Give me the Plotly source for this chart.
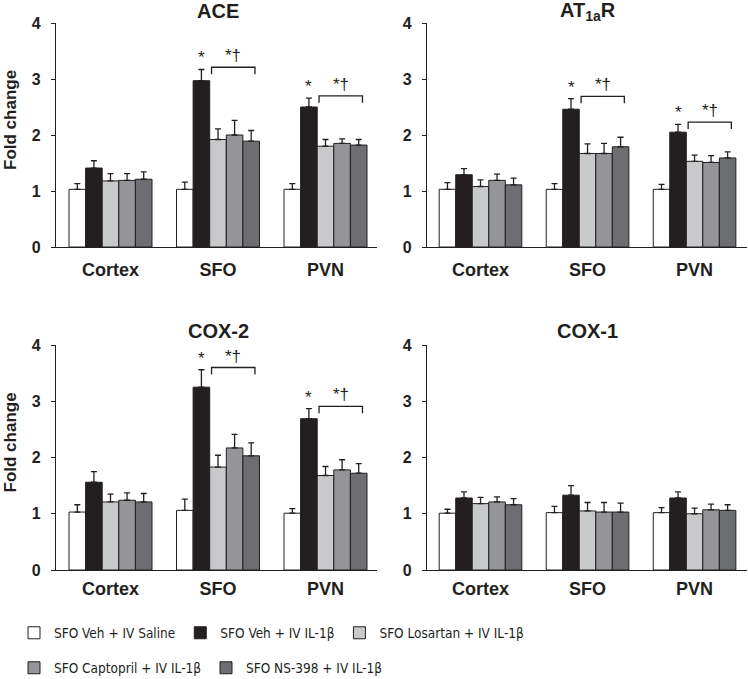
import plotly.graph_objects as go

regions = ["Cortex", "SFO", "PVN"]
groups = ["SFO Veh + IV Saline", "SFO Veh + IV IL-1β", "SFO Losartan + IV IL-1β",
          "SFO Captopril + IV IL-1β", "SFO NS-398 + IV IL-1β"]
colors = ["#ffffff", "#231f20", "#c8c9cb", "#939598", "#6d6e71"]

# means[group][region], errors[group][region]
ace_mean = [[1.03, 1.03, 1.03], [1.41, 2.97, 2.50], [1.18, 1.92, 1.80], [1.19, 2.00, 1.85], [1.21, 1.89, 1.82]]
ace_err = [[0.10, 0.13, 0.10], [0.13, 0.20, 0.16], [0.13, 0.19, 0.12], [0.12, 0.26, 0.08], [0.13, 0.19, 0.10]]

at1_mean = [[1.03, 1.03, 1.03], [1.29, 2.46, 2.05], [1.08, 1.67, 1.53], [1.19, 1.67, 1.51], [1.11, 1.79, 1.59]]
at1_err = [[0.12, 0.10, 0.09], [0.11, 0.19, 0.14], [0.12, 0.17, 0.11], [0.11, 0.18, 0.12], [0.12, 0.17, 0.11]]

cox2_mean = [[1.03, 1.06, 1.01], [1.56, 3.25, 2.69], [1.21, 1.83, 1.68], [1.24, 2.17, 1.78], [1.21, 2.03, 1.72]]
cox2_err = [[0.13, 0.20, 0.08], [0.19, 0.31, 0.18], [0.14, 0.21, 0.16], [0.13, 0.24, 0.18], [0.15, 0.23, 0.17]]

cox1_mean = [[1.01, 1.02, 1.02], [1.28, 1.33, 1.28], [1.18, 1.05, 1.00], [1.21, 1.03, 1.07], [1.16, 1.03, 1.06]]
cox1_err = [[0.07, 0.11, 0.09], [0.11, 0.17, 0.11], [0.11, 0.15, 0.10], [0.09, 0.17, 0.10], [0.11, 0.16, 0.10]]

panel_titles = ["ACE", "AT<sub>1a</sub>R", "COX-2", "COX-1"]
panel_means = [ace_mean, at1_mean, cox2_mean, cox1_mean]
panel_errs = [ace_err, at1_err, cox2_err, cox1_err]
sig_regions = [["SFO", "PVN"], ["SFO", "PVN"], ["SFO", "PVN"], []]
y_ticks = [0, 1, 2, 3, 4]

W, H = 748, 679
BOLD = "Liberation Sans, Arial, sans-serif"
NARROW = "DejaVu Sans Condensed, Liberation Sans Narrow, Arial Narrow, sans-serif"
INK = "#231f20"

# pixel geometry of panels
xdom_px = [(56, 377), (427, 747), (56, 377), (427, 747)]
ydom_px = [(247, 23), (247, 23), (570, 345), (570, 345)]
title_px = [11, 11, 331, 331]
xranges = [[-0.507, 2.479], [-0.5, 2.49], [-0.507, 2.479], [-0.5, 2.49]]
xstand = [6, 6, 2, 2]

bargap = 0.228
nb = len(groups)
barw = (1 - bargap) / nb

fig = go.Figure()
shapes = []
annotations = []

for p in range(4):
    sfx = "" if p == 0 else str(p + 1)
    xa, ya = "x" + sfx, "y" + sfx
    for g in range(nb):
        fig.add_trace(go.Bar(
            x=regions, y=panel_means[p][g], name=groups[g],
            xaxis=xa, yaxis=ya,
            marker=dict(color=colors[g], line=dict(color=INK, width=1)),
            error_y=dict(type="data", symmetric=False, array=panel_errs[p][g],
                         arrayminus=[0] * len(regions), color=INK, thickness=1.3, width=3),
            showlegend=(p == 0), legend=("legend" if g < 3 else "legend2"),
        ))
    x0, x1 = xdom_px[p]
    yb, yt = ydom_px[p]
    fig.layout["xaxis" + sfx] = dict(
        domain=[x0 / W, x1 / W], anchor=ya, range=xranges[p], type="category",
        showline=True, linecolor=INK, linewidth=1.2, ticks="", showgrid=False,
        zeroline=False, ticklabelstandoff=xstand[p], automargin=False,
        tickfont=dict(family=BOLD, size=18, color=INK, weight="bold"),
    )
    fig.layout["yaxis" + sfx] = dict(
        domain=[1 - yb / H, 1 - yt / H], anchor=xa, range=[0, 4],
        tickvals=y_ticks, ticktext=[str(v) for v in y_ticks],
        showline=True, linecolor=INK, linewidth=1.2, ticks="outside", ticklen=4,
        tickcolor=INK, showgrid=False, zeroline=False, ticklabelstandoff=7, automargin=False,
        tickfont=dict(family=BOLD, size=16, color=INK, weight="bold"),
    )
    annotations.append(dict(
        text="<b>" + panel_titles[p] + "</b>", x="SFO", xref=xa, y=1 - title_px[p] / H, yref="paper",
        showarrow=False, xanchor="center", yanchor="middle",
        font=dict(family=BOLD, size=20, color=INK),
    ))
    for r in sig_regions[p]:
        ri = regions.index(r)
        cap = panel_means[p][1][ri] + panel_errs[p][1][ri]
        off_black = (1 - 2) * barw
        annotations.append(dict(
            text="*", x=ri + off_black, xref=xa, y=cap, yref=ya, showarrow=False,
            xanchor="center", yanchor="bottom",
            font=dict(family=BOLD, size=17, color=INK),
        ))
        by = cap + 0.04
        bx0 = ri + (2 - 2) * barw - 0.06
        bx1 = ri + (4 - 2) * barw + 0.035
        tick = 0.125
        shapes.append(dict(
            type="path", xref=xa, yref=ya,
            path=f"M{bx0},{by - tick} L{bx0},{by} L{bx1},{by} L{bx1},{by - tick}",
            line=dict(color=INK, width=1.3),
        ))
        annotations.append(dict(
            text="*†", x=(bx0 + bx1) / 2, xref=xa, y=by, yref=ya, showarrow=False,
            xanchor="center", yanchor="bottom",
            font=dict(family=BOLD, size=17, color=INK),
        ))

for p, (yb, yt) in enumerate(ydom_px):
    if p in (0, 2):
        annotations.append(dict(
            text="<b>Fold change</b>", textangle=-90, x=10 / W, xref="paper",
            y=1 - ((yb + yt) / 2 - 15) / H, yref="paper", showarrow=False,
            xanchor="center", yanchor="middle",
            font=dict(family=BOLD, size=17, color=INK),
        ))

legend_font = dict(family=NARROW, size=13.5, color=INK)
fig.update_layout(
    width=W, height=H, margin=dict(l=0, r=0, t=0, b=0, autoexpand=False),
    paper_bgcolor="white", plot_bgcolor="white",
    barmode="group", bargap=bargap, bargroupgap=0,
    shapes=shapes, annotations=annotations,
    legend=dict(orientation="h", x=14 / W, xanchor="left", y=1 - 633 / H, yanchor="middle",
                font=legend_font, bgcolor="rgba(0,0,0,0)", traceorder="normal"),
    legend2=dict(orientation="h", x=14 / W, xanchor="left", y=1 - 668 / H, yanchor="middle",
                 font=legend_font, bgcolor="rgba(0,0,0,0)", traceorder="normal"),
)

fig.write_html("out.html", config={"displayModeBar": False},
               post_script="document.body.style.margin='0';")
